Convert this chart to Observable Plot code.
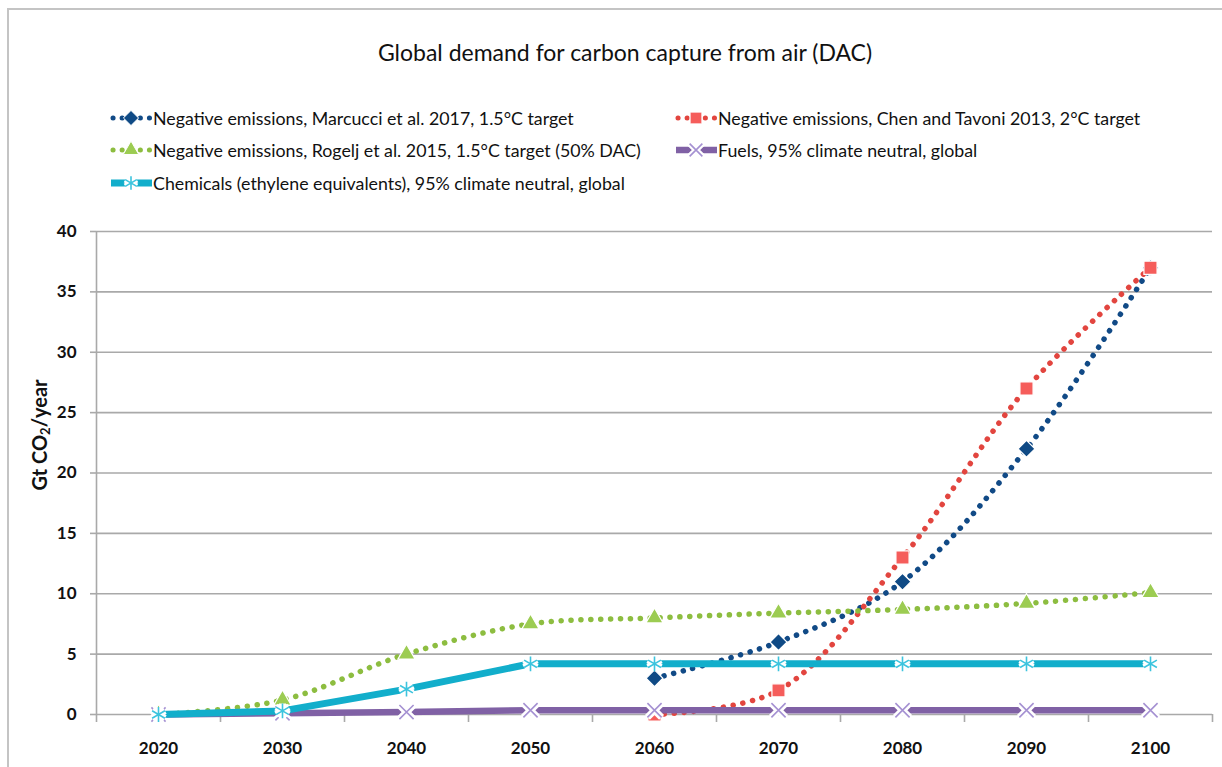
<!DOCTYPE html>
<html>
<head>
<meta charset="utf-8">
<script src="https://cdn.jsdelivr.net/npm/d3@7"></script>
<script src="https://cdn.jsdelivr.net/npm/@observablehq/plot@0.6"></script>
<style>
  html, body { margin: 0; padding: 0; background: #fff; }
  body { width: 1222px; height: 767px; overflow: hidden; position: relative; font-family: Lato, "Open Sans", sans-serif; }
  #frameL { position: absolute; left: 7px; top: 8px; width: 2px; height: 780px; background: #c4c4c4; }
  #frameT { position: absolute; left: 7px; top: 8px; width: 1230px; height: 2px; background: #c4c4c4; }
  #title { position: absolute; left: 0; width: 1250px; top: 38px; text-align: center; font-size: 23px; color: #111; }
  .leg { position: absolute; display: flex; align-items: center; font-size: 17.8px; color: #111; white-space: nowrap; }
  .leg svg { display: block; margin-right: 1px; }
  #ylabel { position: absolute; left: 40px; top: 435px; transform: translate(-50%, -50%) rotate(-90deg); font-size: 20px; font-weight: bold; white-space: nowrap; color: #111; }
  #ylabel sub { font-size: 13px; vertical-align: -3px; }
  #chart { position: absolute; left: 0; top: 200px; }
</style>
</head>
<body>
<div id="frameL"></div>
<div id="frameT"></div>
<div id="title">Global demand for carbon capture from air (DAC)</div>
<div id="legend"></div>
<div id="ylabel">Gt CO<sub>2</sub>/year</div>
<div id="chart"></div>
<script>
// ---- data ----
const years = [2020, 2030, 2040, 2050, 2060, 2070, 2080, 2090, 2100];
const marcucci   = [null, null, null, null, 3, 6, 11, 22, 37];
const chenTavoni = [null, null, null, null, 0, 2, 13, 27, 37];
const rogelj     = [0, 1.2, 5, 7.5, 8, 8.4, 8.7, 9.2, 10.1];
const chemicals  = [0, 0.3, 2.1, 4.2, 4.2, 4.2, 4.2, 4.2, 4.2];
const fuels      = [0, 0.1, 0.2, 0.35, 0.35, 0.35, 0.35, 0.35, 0.35];
const yTicks = [0, 5, 10, 15, 20, 25, 30, 35, 40];
const categoryEdges = [2015, 2025, 2035, 2045, 2055, 2065, 2075, 2085, 2095, 2105];
const seriesNames = {
  marcucci: "Negative emissions, Marcucci et al. 2017, 1.5°C target",
  chen: "Negative emissions, Chen and Tavoni 2013, 2°C target",
  rogelj: "Negative emissions, Rogelj et al. 2015, 1.5°C target (50% DAC)",
  fuels: "Fuels, 95% climate neutral, global",
  chemicals: "Chemicals (ethylene equivalents), 95% climate neutral, global"
};

const toRows = (vals) => years.map((x, i) => ({x, y: vals[i]})).filter(d => d.y != null);

const styles = {
  marcucci: {line: "#114a86", mark: "#0f4a85", symbol: "diamond2", r: 7.6, dotted: true, filled: true},
  chen:     {line: "#e2453f", mark: "#f55d5b", symbol: "square", r: 7.4, dotted: true, filled: true},
  rogelj:   {line: "#8dbd40", mark: "#9ccc52", symbol: "triangle", r: 6.4, dotted: true, filled: true},
  fuels:    {line: "#8061a5", mark: "#a591d2", symbol: "times", r: 6.5, dotted: false, filled: false, w: 6.5},
  chemicals:{line: "#12aecb", mark: "#3cc4de", symbol: "asterisk", r: 7, dotted: false, filled: false, w: 7}
};
const data = {
  marcucci: toRows(marcucci),
  chen: toRows(chenTavoni),
  rogelj: toRows(rogelj),
  fuels: toRows(fuels),
  chemicals: toRows(chemicals)
};

const marks = [
  Plot.ruleY(yTicks, {y: d => d, stroke: "#a9a9a9", strokeWidth: 1.6}),
  Plot.ruleX([2015], {x: d => d, y1: 0, y2: 40, stroke: "#a9a9a9", strokeWidth: 1.6}),
  Plot.axisX(categoryEdges, {tickSize: 8, tickFormat: () => "", stroke: "#a9a9a9", strokeWidth: 1.6, label: null}),
  Plot.axisX(years, {tickSize: 0, tickPadding: 27, tickFormat: d => String(d), fontSize: 17, fontWeight: "bold", fill: "#111", label: null}),
  Plot.axisY(yTicks, {tickSize: 6, tickPadding: 14, stroke: "#a9a9a9", strokeWidth: 1.6, fontSize: 17, fontWeight: "bold", fill: "#111", label: null})
];

// series drawn in the original order; later series on top
for (const k of ["marcucci", "chen", "rogelj", "fuels", "chemicals"]) {
  const s = styles[k];
  if (s.dotted) {
    marks.push(Plot.line(data[k], {x: "x", y: "y", stroke: s.line, strokeWidth: 5.5, strokeDasharray: "0.1 9.8", strokeLinecap: "round", curve: "catmull-rom"}));
    marks.push(Plot.dot(data[k], {x: "x", y: "y", symbol: s.symbol, r: s.r, fill: s.mark, stroke: "white", strokeWidth: 1.2}));
  } else {
    marks.push(Plot.line(data[k], {x: "x", y: "y", stroke: s.line, strokeWidth: s.w}));
    marks.push(Plot.dot(data[k], {x: "x", y: "y", symbol: s.symbol, r: s.r, stroke: "white", strokeWidth: 7}));
    marks.push(Plot.dot(data[k], {x: "x", y: "y", symbol: s.symbol, r: s.r, stroke: s.mark, strokeWidth: 1.6}));
  }
}

const chart = Plot.plot({
  width: 1222,
  height: 567,
  marginTop: 31,
  marginBottom: 53,
  marginLeft: 96,
  marginRight: 10,
  style: {fontFamily: "Lato, 'Open Sans', sans-serif", background: "transparent", overflow: "visible"},
  x: {domain: [2015, 2105]},
  y: {domain: [0, 40]},
  marks
});
document.getElementById("chart").appendChild(chart);

// ---- legend ----
const legendItems = [
  {k: "marcucci", left: 110, top: 118},
  {k: "rogelj", left: 110, top: 150},
  {k: "chemicals", left: 110, top: 183},
  {k: "chen", left: 675, top: 118},
  {k: "fuels", left: 675, top: 150}
];
const symMap = {diamond2: d3.symbolDiamond2, square: d3.symbolSquare, triangle: d3.symbolTriangle, times: d3.symbolTimes, asterisk: d3.symbolAsterisk};
const legend = d3.select("#legend");
for (const it of legendItems) {
  const s = styles[it.k];
  const div = legend.append("div").attr("class", "leg").style("left", it.left + "px").style("top", (it.top - 11) + "px").style("height", "22px");
  const svg = div.append("svg").attr("width", 42).attr("height", 22);
  if (s.dotted) {
    svg.append("line").attr("x1", 3).attr("x2", 40).attr("y1", 11).attr("y2", 11)
      .attr("stroke", s.line).attr("stroke-width", 5).attr("stroke-dasharray", "0.1 9")
      .attr("stroke-linecap", "round");
  } else {
    svg.append("line").attr("x1", 1).attr("x2", 42).attr("y1", 11).attr("y2", 11)
      .attr("stroke", s.line).attr("stroke-width", s.w);
  }
  const size = Math.PI * Math.pow(s.r * 0.9, 2);
  const path = d3.symbol(symMap[s.symbol], size)();
  if (s.filled) {
    svg.append("path").attr("d", path).attr("transform", "translate(21,11)").attr("fill", s.mark).attr("stroke", "white").attr("stroke-width", 1);
  } else {
    svg.append("path").attr("d", path).attr("transform", "translate(21,11)").attr("fill", "none").attr("stroke", "white").attr("stroke-width", 6);
    svg.append("path").attr("d", path).attr("transform", "translate(21,11)").attr("fill", "none").attr("stroke", s.mark).attr("stroke-width", 1.6);
  }
  div.append("span").text(seriesNames[it.k]);
}
</script>
</body>
</html>
